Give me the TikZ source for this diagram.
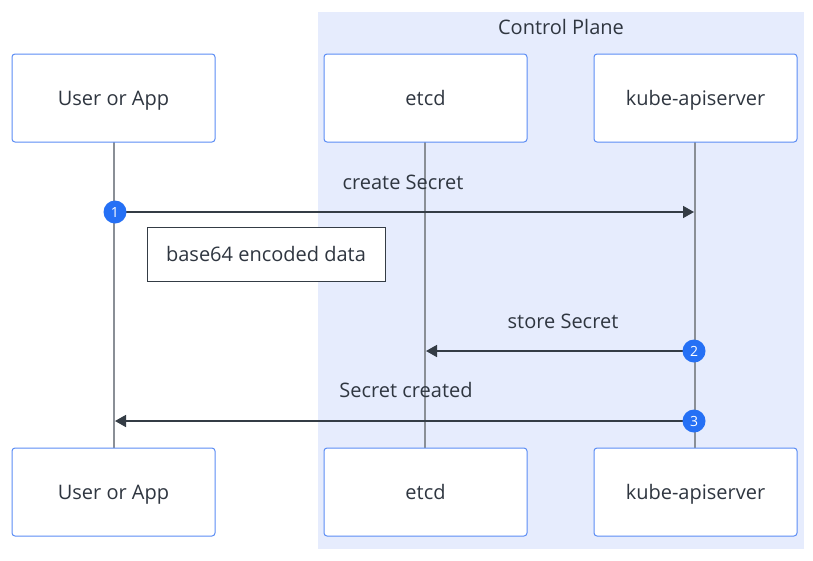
\documentclass[tikz,border=0pt]{standalone}
\usepackage{fontspec}
\setmainfont{Open Sans}
\usetikzlibrary{arrows.meta}
\definecolor{planebg}{HTML}{E6ECFD}
\definecolor{boxblue}{HTML}{5B8DF5}
\definecolor{linegray}{HTML}{8A8F96}
\definecolor{arrowdark}{HTML}{343C45}
\definecolor{txt}{HTML}{2F3640}
\definecolor{badge}{HTML}{2570F5}
\tikzset{
  actor/.style={draw=boxblue, line width=1pt, fill=white, rounded corners=3pt,
    minimum width=203pt, minimum height=88pt, inner sep=0pt, text=txt,
    text height=15pt, text depth=0pt,
    font=\fontsize{20}{22}\selectfont},
  lifeline/.style={draw=linegray, line width=1.8pt},
  msg/.style={draw=arrowdark, line width=1.6pt, -{Triangle[length=11pt,width=12pt]}},
  msglabel/.style={text=txt, font=\fontsize{20}{22}\selectfont, inner sep=0pt},
  badgecirc/.style={circle, fill=badge, minimum size=23pt, inner sep=0pt,
    text=white, font=\fontsize{14}{15}\selectfont},
  notebox/.style={draw=arrowdark, line width=1pt, fill=white, minimum width=238pt,
    minimum height=54pt, inner sep=0pt, text=txt, text height=15pt, text depth=0pt,
    font=\fontsize{20}{22}\selectfont}
}
\begin{document}
\begin{tikzpicture}[x=1pt,y=-1pt]
\useasboundingbox (0,0) rectangle (813,560);
\fill[white] (0,0) rectangle (813,560);
\node[fill=planebg, minimum width=486pt, minimum height=537pt, inner sep=0pt] (plane) at (561,280.5) {};
\node[msglabel] (planetitle) at (561,27) {Control Plane};
% lifelines
\coordinate (u1) at (114,142); \coordinate (u2) at (114,448);
\coordinate (e1) at (425,142); \coordinate (e2) at (425,448);
\coordinate (k1) at (695,142); \coordinate (k2) at (695,448);
\draw[lifeline] (u1) -- (u2);
\draw[lifeline] (e1) -- (e2);
\draw[lifeline] (k1) -- (k2);
% actors
\node[actor] (userT) at (113.5,98) {User or App};
\node[actor] (etcdT) at (425.5,98) {etcd};
\node[actor] (kubeT) at (695.5,98) {kube-apiserver};
\node[actor] (userB) at (113.5,492) {User or App};
\node[actor] (etcdB) at (425.5,492) {etcd};
\node[actor] (kubeB) at (695.5,492) {kube-apiserver};
% message 1
\coordinate (m1s) at (114,212); \coordinate (m1e) at (694,212);
\draw[msg] (m1s) -- (m1e);
\node[msglabel] (l1) at (403,182) {create Secret};
\node[notebox] (note) at (266,254) {base64 encoded data};
\node[badgecirc] (b1) at (115,212) {1};
% message 2
\coordinate (m2s) at (695,351); \coordinate (m2e) at (426,351);
\draw[msg] (m2s) -- (m2e);
\node[msglabel] (l2) at (563,321) {store Secret};
\node[badgecirc] (b2) at (694,351) {2};
% message 3
\coordinate (m3s) at (695,421); \coordinate (m3e) at (115,421);
\draw[msg] (m3s) -- (m3e);
\node[msglabel] (l3) at (406,390) {Secret created};
\node[badgecirc] (b3) at (694,421) {3};
\end{tikzpicture}
\end{document}
